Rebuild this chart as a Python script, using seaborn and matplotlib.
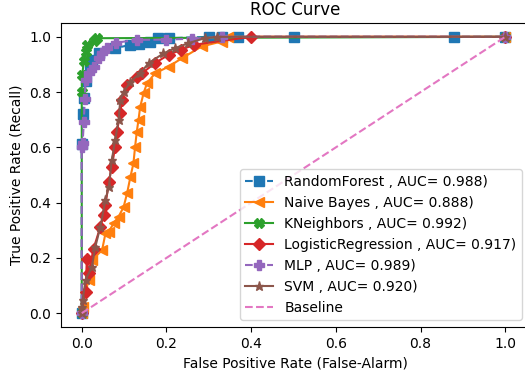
import matplotlib
matplotlib.use('Agg')
import matplotlib.pyplot as plt
import seaborn as sns

# ROC points
rf_fpr = [0, 0, 0.002, 0.005, 0.01, 0.02, 0.024, 0.04, 0.079, 0.115, 0.134, 0.16, 0.18, 0.205, 0.3, 0.33, 0.37, 0.5, 0.88, 1.0]
rf_tpr = [0, 0.612, 0.72, 0.78, 0.84, 0.89, 0.917, 0.94, 0.959, 0.971, 0.975, 0.98, 0.995, 0.995, 1.0, 1.0, 1.0, 1.0, 1.0, 1.0]

nb_fpr = [0, 0.002, 0.016, 0.024, 0.048, 0.056, 0.064, 0.075, 0.087, 0.099, 0.107, 0.115, 0.122, 0.126, 0.13,
          0.134, 0.138, 0.146, 0.154, 0.173, 0.205, 0.236, 0.283, 0.33, 0.345, 1.0]
nb_tpr = [0, 0.023, 0.12, 0.192, 0.228, 0.289, 0.295, 0.325, 0.349, 0.385, 0.434, 0.494, 0.542, 0.603, 0.657,
          0.7, 0.747, 0.796, 0.832, 0.868, 0.892, 0.922, 0.965, 0.983, 1.0, 1.0]

kn_fpr = [0, 0, 0.001, 0.005, 0.009, 0.013, 0.03, 0.036, 1.0]
kn_tpr = [0, 0.8, 0.862, 0.911, 0.946, 0.971, 0.985, 0.995, 1.0]

lr_fpr = [0, 0.009, 0.012, 0.016, 0.028, 0.044, 0.052, 0.056, 0.064, 0.071, 0.079, 0.083, 0.091, 0.095,
          0.107, 0.13, 0.142, 0.173, 0.205, 0.235, 0.264, 0.4, 1.0]
lr_tpr = [0, 0.077, 0.195, 0.144, 0.234, 0.313, 0.355, 0.391, 0.476, 0.53, 0.603, 0.657, 0.724, 0.772,
          0.826, 0.856, 0.868, 0.905, 0.935, 0.953, 0.971, 1.0, 1.0]

mlp_fpr = [0, 0, 0.002, 0.005, 0.007, 0.009, 0.016, 0.028, 0.04, 0.047, 0.059, 0.082, 0.13, 0.2, 0.26, 0.33, 1.0]
mlp_tpr = [0, 0.6, 0.615, 0.693, 0.774, 0.844, 0.868, 0.892, 0.922, 0.94, 0.96, 0.979, 0.989, 0.99, 0.993, 1.0, 1.0]

svm_fpr = [0, 0.001, 0.002, 0.009, 0.024, 0.032, 0.044, 0.056, 0.064, 0.071, 0.079, 0.087, 0.091, 0.099,
           0.115, 0.138, 0.158, 0.193, 0.22, 0.252, 0.29, 0.32, 1.0]
svm_tpr = [0, 0.023, 0.047, 0.12, 0.168, 0.24, 0.313, 0.41, 0.458, 0.554, 0.627, 0.7, 0.772, 0.8,
           0.838, 0.868, 0.905, 0.94, 0.959, 0.977, 0.995, 1.0, 1.0]

base_x = [0, 1]
base_y = [0, 1]

labels = ['RandomForest , AUC= 0.988)', 'Naive Bayes , AUC= 0.888)', 'KNeighbors , AUC= 0.992)',
          'LogisticRegression , AUC= 0.917)', 'MLP , AUC= 0.989)', 'SVM , AUC= 0.920)']

curves = [(rf_fpr, rf_tpr, 's', '--'), (nb_fpr, nb_tpr, '<', '-'), (kn_fpr, kn_tpr, 'X', '-'),
          (lr_fpr, lr_tpr, 'D', '-'), (mlp_fpr, mlp_tpr, 'P', '--'), (svm_fpr, svm_tpr, '*', '-')]
colors = sns.color_palette('tab10')

fig = plt.figure(figsize=(5.25, 3.72), dpi=100)
# axes runs a little past the right edge of the figure, as in the reference
ax = fig.add_axes([61 / 525, 1 - 327 / 372, 468 / 525, 304 / 372])

for (fx, ty, mk, ls), lab, c in zip(curves, labels, colors):
    sns.lineplot(x=fx, y=ty, sort=False, estimator=None, marker=mk, linestyle=ls, color=c,
                 mec=c, mfc=c, mew=1, markersize=6.5, linewidth=1.5, label=lab, ax=ax)

sns.lineplot(x=base_x, y=base_y, sort=False, estimator=None, linestyle='--', color=colors[6],
             linewidth=1.5, label='Baseline', ax=ax)

ax.set_xlim(-0.049, 1.056)
ax.set_ylim(-0.05, 1.05)
ax.set_title('ROC Curve', fontsize=12)
ax.set_xlabel('False Positive Rate (False-Alarm)')
ax.set_ylabel('True Positive Rate (Recall)')
ax.legend(loc='lower right', fontsize=10, bbox_to_anchor=(1.0, 0.0))

fig.savefig('out.png', dpi=100)
